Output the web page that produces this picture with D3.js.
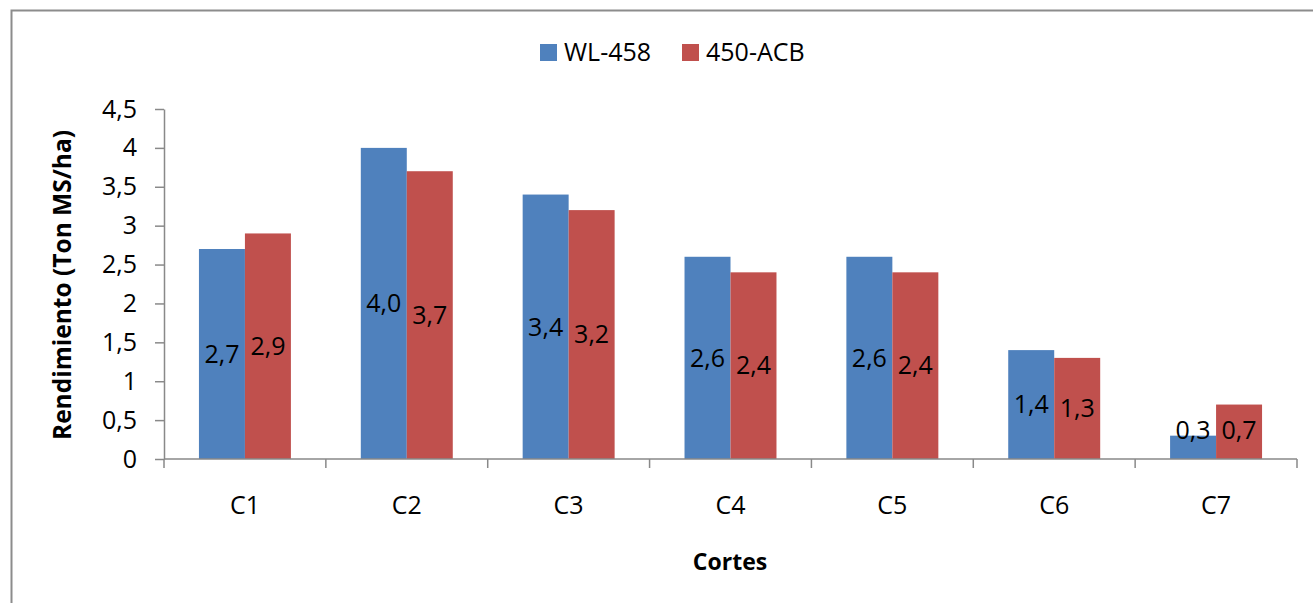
<!DOCTYPE html>
<html>
<head>
<meta charset="utf-8">
<script src="https://cdn.jsdelivr.net/npm/d3@7"></script>
<style>
  html, body { margin: 0; padding: 0; background: #fff; }
  svg { display: block; font-family: "Open Sans", "Noto Sans", sans-serif; }
</style>
</head>
<body>
<svg id="chart" width="1313" height="603"></svg>
<script>
// Yield per cut for two alfalfa varieties
const categories = ["C1", "C2", "C3", "C4", "C5", "C6", "C7"];
const seriesNames = ["WL-458", "450-ACB"];
const wl458 = [2.7, 4.0, 3.4, 2.6, 2.6, 1.4, 0.3];
const acb450 = [2.9, 3.7, 3.2, 2.4, 2.4, 1.3, 0.7];
const yTicks = [0, 0.5, 1, 1.5, 2, 2.5, 3, 3.5, 4, 4.5];
const colors = ["#4F81BD", "#C0504D"];

const svg = d3.select("#chart");
const axisColor = "#898989";
const comma = v => String(v).replace(".", ",");
const oneDec = v => v.toFixed(1).replace(".", ",");

// Outer frame
svg.append("rect")
  .attr("x", 11.5).attr("y", 10.5)
  .attr("width", 1340).attr("height", 640)
  .attr("fill", "none").attr("stroke", "#8c8c8c").attr("stroke-width", 2);

const plot = { left: 164, right: 1297, top: 109, bottom: 459 };

const y = d3.scaleLinear().domain([0, 4.5]).range([plot.bottom, plot.top]);
const x0 = d3.scaleBand().domain(categories).range([plot.left, plot.right]).padding(0);
const x1 = d3.scaleBand().domain(seriesNames).range([0, x0.bandwidth()])
  .paddingInner(0).paddingOuter(0.76);

const rows = categories.map((c, i) => ({ cat: c, vals: [wl458[i], acb450[i]] }));

// Bars
const groups = svg.append("g").selectAll("g").data(rows).join("g")
  .attr("transform", d => `translate(${x0(d.cat)},0)`);

groups.selectAll("rect")
  .data(d => d.vals.map((v, j) => ({ name: seriesNames[j], v, j })))
  .join("rect")
  .attr("x", d => x1(d.name))
  .attr("y", d => y(d.v))
  .attr("width", x1.bandwidth())
  .attr("height", d => y(0) - y(d.v))
  .attr("fill", d => colors[d.j]);

// Value labels, centred in each bar (kept clear of the axis for short bars)
groups.selectAll("text")
  .data(d => d.vals.map((v, j) => ({ name: seriesNames[j], v, j })))
  .join("text")
  .attr("x", d => x1(d.name) + x1.bandwidth() / 2)
  .attr("y", d => Math.min((y(d.v) + y(0)) / 2, y(0) - 29))
  .attr("dy", "0.35em")
  .attr("text-anchor", "middle")
  .attr("font-size", 25)
  .attr("fill", "#000")
  .text(d => oneDec(d.v));

// Y axis
const yAxis = svg.append("g")
  .attr("transform", `translate(${plot.left},0)`)
  .call(d3.axisLeft(y).tickValues(yTicks).tickFormat(comma).tickSize(9).tickPadding(18).tickSizeOuter(0));
yAxis.select(".domain").attr("stroke", axisColor).attr("stroke-width", 1.5);
yAxis.selectAll(".tick line").attr("stroke", axisColor).attr("stroke-width", 1.5);
yAxis.selectAll(".tick text").attr("font-size", 25).attr("fill", "#000")
  .attr("font-family", "'Open Sans', sans-serif");

// X axis: line with ticks at category boundaries
const xAxis = svg.append("g");
xAxis.append("line")
  .attr("x1", plot.left).attr("x2", plot.right)
  .attr("y1", y(0)).attr("y2", y(0))
  .attr("stroke", axisColor).attr("stroke-width", 1.5);
const bounds = categories.map(c => x0(c)).concat([x0(categories[categories.length - 1]) + x0.bandwidth()]);
xAxis.selectAll("line.tk").data(bounds).join("line")
  .attr("class", "tk")
  .attr("x1", d => d).attr("x2", d => d)
  .attr("y1", y(0)).attr("y2", y(0) + 9)
  .attr("stroke", axisColor).attr("stroke-width", 1.5);
xAxis.selectAll("text").data(categories).join("text")
  .attr("x", d => x0(d) + x0.bandwidth() / 2)
  .attr("y", 514)
  .attr("text-anchor", "middle")
  .attr("font-size", 25)
  .attr("fill", "#000")
  .text(d => d);

// Axis titles
svg.append("text")
  .attr("transform", "translate(71,285) rotate(-90)")
  .attr("text-anchor", "middle")
  .attr("font-size", 24.5)
  .attr("font-weight", "bold")
  .text("Rendimiento (Ton MS/ha)");

svg.append("text")
  .attr("x", 730).attr("y", 570)
  .attr("text-anchor", "middle")
  .attr("font-size", 23)
  .attr("font-weight", "bold")
  .text("Cortes");

// Legend
const legendX = [540, 682];
const legend = svg.append("g").selectAll("g").data(seriesNames).join("g")
  .attr("transform", (d, i) => `translate(${legendX[i]},44)`);
legend.append("rect").attr("width", 17).attr("height", 17).attr("fill", (d, i) => colors[i]);
legend.append("text").attr("x", 24).attr("y", 8.5).attr("dy", "0.35em")
  .attr("font-size", 25).text(d => d);
</script>
</body>
</html>
